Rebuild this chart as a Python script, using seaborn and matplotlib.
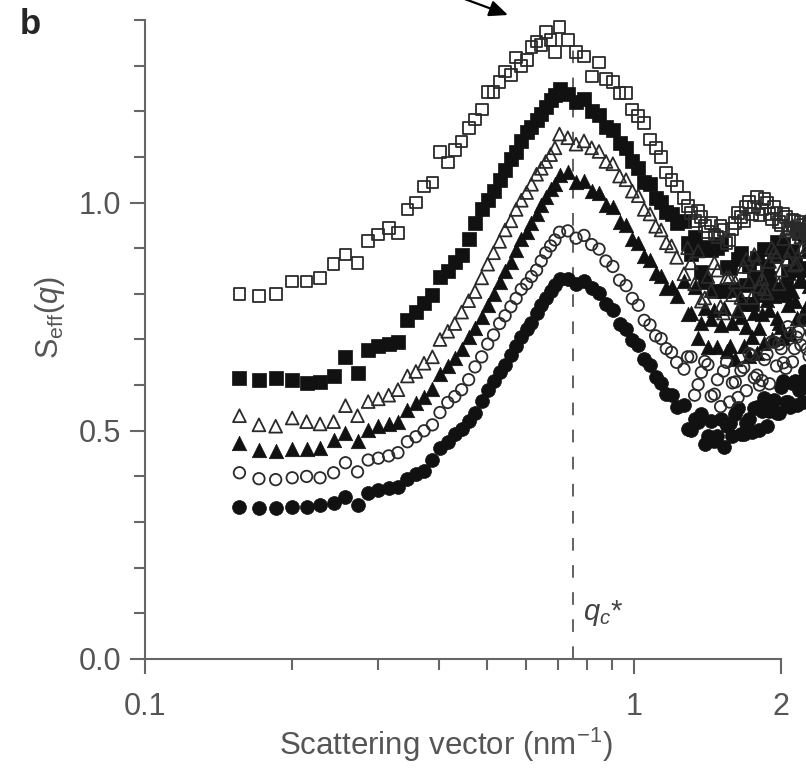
import matplotlib
matplotlib.use("Agg")
import matplotlib.pyplot as plt
from matplotlib.ticker import FixedLocator, FixedFormatter, NullFormatter
import pandas as pd
import seaborn as sns

# Scattering vector q (nm^-1): main grid, then the interleaved points of the high-q tail
q = [0.156, 0.171, 0.185, 0.200, 0.214, 0.228, 0.243, 0.257, 0.272, 0.286,
     0.300, 0.315, 0.329, 0.344, 0.358, 0.372, 0.387, 0.401, 0.416, 0.430,
     0.444, 0.459, 0.473, 0.488, 0.502, 0.516, 0.531, 0.545, 0.560, 0.574,
     0.588, 0.603, 0.617, 0.632, 0.646, 0.660, 0.675, 0.689, 0.704,
     0.732, 0.761, 0.790, 0.819, 0.848, 0.876, 0.905, 0.934, 0.963, 0.992,
     1.020, 1.049, 1.078, 1.107, 1.136, 1.164, 1.193, 1.222,
     1.265, 1.308, 1.352, 1.395, 1.438, 1.481, 1.524, 1.568, 1.611, 1.654,
     1.697, 1.740, 1.784, 1.827, 1.870, 1.913, 1.956, 2.000, 2.043, 2.086,
     2.129, 2.172, 2.216, 2.259, 2.302]
q_tail = [1.287, 1.330, 1.373, 1.416, 1.460, 1.503, 1.546, 1.589, 1.632, 1.676,
          1.719, 1.762, 1.805, 1.848, 1.892, 1.935, 1.978, 2.021, 2.064, 2.108,
          2.151, 2.194, 2.237, 2.280]

# S_eff(q) for the six samples (main grid, then tail points)
open_squares = [0.800, 0.796, 0.800, 0.827, 0.827, 0.835, 0.866, 0.886, 0.868, 0.915,
                0.930, 0.945, 0.934, 0.985, 1.000, 1.035, 1.044, 1.110, 1.088, 1.116,
                1.134, 1.164, 1.182, 1.204, 1.243, 1.243, 1.265, 1.287, 1.280, 1.318,
                1.300, 1.313, 1.340, 1.353, 1.345, 1.373, 1.357, 1.330, 1.384,
                1.357, 1.330, 1.320, 1.276, 1.307, 1.270, 1.265, 1.240, 1.240, 1.204,
                1.190, 1.175, 1.138, 1.120, 1.100, 1.066, 1.050, 1.035,
                1.010, 0.978, 0.982, 0.948, 0.955, 0.925, 0.940, 0.918, 0.955, 0.968,
                0.990, 0.975, 1.013, 0.985, 1.000, 0.963, 0.978, 0.950, 0.968, 0.942,
                0.960, 0.935, 0.952, 0.930, 0.948]
open_squares_tail = [0.992, 0.960, 0.968, 0.935, 0.930, 0.948, 0.912, 0.942, 0.978, 0.960,
                     1.002, 0.990, 0.972, 1.008, 0.975, 0.990, 0.958, 0.975, 0.945, 0.962,
                     0.938, 0.958, 0.940, 0.955]

filled_squares = [0.616, 0.612, 0.616, 0.612, 0.605, 0.607, 0.620, 0.662, 0.627, 0.678,
                  0.685, 0.690, 0.695, 0.743, 0.760, 0.780, 0.798, 0.838, 0.850, 0.870,
                  0.886, 0.920, 0.956, 0.985, 1.005, 1.025, 1.050, 1.072, 1.095, 1.110,
                  1.135, 1.155, 1.165, 1.180, 1.195, 1.210, 1.225, 1.235, 1.248,
                  1.238, 1.220, 1.228, 1.200, 1.192, 1.165, 1.158, 1.130, 1.120, 1.090,
                  1.075, 1.045, 1.040, 1.010, 1.002, 0.980, 0.975, 0.955,
                  0.960, 0.887, 0.897, 0.826, 0.897, 0.900, 0.807, 0.856, 0.809, 0.890,
                  0.819, 0.778, 0.879, 0.813, 0.860, 0.810, 0.914, 0.892, 0.814, 0.891,
                  0.870, 0.933, 0.856, 0.933, 0.912]
filled_squares_tail = [0.911, 0.925, 0.847, 0.903, 0.807, 0.909, 0.859, 0.811, 0.877, 0.777,
                       0.861, 0.835, 0.797, 0.899, 0.835, 0.883, 0.805, 0.909, 0.845, 0.894,
                       0.943, 0.852, 0.929, 0.894]

open_triangles = [0.533, 0.513, 0.510, 0.528, 0.520, 0.515, 0.520, 0.555, 0.533, 0.564,
                  0.570, 0.578, 0.590, 0.620, 0.630, 0.648, 0.662, 0.700, 0.718, 0.735,
                  0.760, 0.785, 0.805, 0.835, 0.865, 0.890, 0.915, 0.940, 0.960, 0.985,
                  1.005, 1.022, 1.040, 1.062, 1.075, 1.090, 1.105, 1.120, 1.150,
                  1.142, 1.128, 1.135, 1.120, 1.112, 1.090, 1.085, 1.058, 1.050, 1.025,
                  1.015, 0.985, 0.975, 0.948, 0.940, 0.912, 0.905, 0.880,
                  0.844, 0.868, 0.894, 0.791, 0.807, 0.852, 0.758, 0.836, 0.826, 0.792,
                  0.876, 0.792, 0.864, 0.833, 0.802, 0.901, 0.883, 0.852, 0.938, 0.894,
                  0.863, 0.935, 0.903, 0.962, 0.904]
open_triangles_tail = [0.901, 0.822, 0.784, 0.838, 0.868, 0.772, 0.836, 0.798, 0.763, 0.860,
                       0.827, 0.886, 0.816, 0.811, 0.871, 0.892, 0.822, 0.921, 0.877, 0.950,
                       0.866, 0.925, 0.893, 0.965]

filled_triangles = [0.474, 0.458, 0.455, 0.460, 0.460, 0.463, 0.480, 0.496, 0.478, 0.502,
                    0.510, 0.515, 0.520, 0.546, 0.560, 0.575, 0.592, 0.625, 0.642, 0.660,
                    0.680, 0.706, 0.725, 0.750, 0.775, 0.800, 0.825, 0.850, 0.870, 0.895,
                    0.920, 0.935, 0.955, 0.975, 0.995, 1.012, 1.030, 1.040, 1.060,
                    1.068, 1.045, 1.048, 1.025, 1.020, 0.995, 0.990, 0.958, 0.950, 0.920,
                    0.912, 0.882, 0.875, 0.845, 0.840, 0.812, 0.815, 0.795,
                    0.829, 0.759, 0.704, 0.768, 0.744, 0.683, 0.768, 0.686, 0.658, 0.750,
                    0.727, 0.705, 0.671, 0.755, 0.787, 0.702, 0.747, 0.727, 0.798, 0.713,
                    0.784, 0.829, 0.757, 0.776, 0.834]
filled_triangles_tail = [0.755, 0.816, 0.736, 0.684, 0.765, 0.732, 0.675, 0.737, 0.762, 0.686,
                         0.664, 0.759, 0.726, 0.693, 0.764, 0.796, 0.737, 0.704, 0.775, 0.807,
                         0.748, 0.832, 0.747, 0.818]

open_circles = [0.408, 0.395, 0.393, 0.397, 0.400, 0.397, 0.408, 0.430, 0.410, 0.436,
                0.440, 0.445, 0.452, 0.476, 0.487, 0.500, 0.513, 0.540, 0.562, 0.575,
                0.590, 0.612, 0.640, 0.662, 0.690, 0.710, 0.735, 0.752, 0.772, 0.790,
                0.810, 0.822, 0.838, 0.852, 0.872, 0.890, 0.905, 0.918, 0.935,
                0.938, 0.922, 0.928, 0.908, 0.898, 0.872, 0.860, 0.830, 0.818, 0.790,
                0.775, 0.742, 0.732, 0.708, 0.702, 0.680, 0.672, 0.650,
                0.635, 0.662, 0.601, 0.652, 0.576, 0.612, 0.631, 0.563, 0.607, 0.632,
                0.588, 0.665, 0.622, 0.610, 0.668, 0.695, 0.642, 0.680, 0.637, 0.714,
                0.680, 0.717, 0.743, 0.679, 0.715]
open_circles_tail = [0.662, 0.578, 0.628, 0.645, 0.580, 0.553, 0.650, 0.605, 0.573, 0.639,
                     0.669, 0.616, 0.600, 0.656, 0.603, 0.694, 0.690, 0.649, 0.728, 0.651,
                     0.705, 0.688, 0.742, 0.664]

filled_circles = [0.333, 0.330, 0.330, 0.333, 0.333, 0.338, 0.342, 0.355, 0.338, 0.364,
                  0.370, 0.374, 0.377, 0.395, 0.405, 0.412, 0.436, 0.462, 0.475, 0.492,
                  0.505, 0.522, 0.540, 0.565, 0.590, 0.608, 0.628, 0.645, 0.665, 0.685,
                  0.705, 0.722, 0.737, 0.758, 0.775, 0.790, 0.806, 0.820, 0.832,
                  0.832, 0.822, 0.828, 0.812, 0.802, 0.778, 0.765, 0.735, 0.722, 0.698,
                  0.688, 0.658, 0.645, 0.618, 0.605, 0.580, 0.578, 0.552,
                  0.556, 0.501, 0.520, 0.471, 0.522, 0.488, 0.465, 0.516, 0.537, 0.494,
                  0.516, 0.498, 0.552, 0.543, 0.510, 0.565, 0.540, 0.595, 0.562, 0.553,
                  0.608, 0.590, 0.564, 0.618, 0.616]
filled_circles_tail = [0.505, 0.525, 0.536, 0.488, 0.478, 0.525, 0.511, 0.489, 0.549, 0.492,
                       0.525, 0.549, 0.502, 0.572, 0.543, 0.568, 0.539, 0.609, 0.562, 0.605,
                       0.557, 0.608, 0.632, 0.593]

q_c = 0.75
x_ticks = [0.1, 1, 2]
x_tick_labels = ["0.1", "1", "2"]
x_minor = [0.2, 0.3, 0.4, 0.5, 0.6, 0.7, 0.8, 0.9]
y_ticks = [0.0, 0.5, 1.0]
y_tick_labels = ["0.0", "0.5", "1.0"]
y_minor = [0.1, 0.2, 0.3, 0.4, 0.6, 0.7, 0.8, 0.9, 1.1, 1.2, 1.3, 1.4]

series = {
    "filled_circles": (filled_circles, filled_circles_tail),
    "open_circles": (open_circles, open_circles_tail),
    "filled_triangles": (filled_triangles, filled_triangles_tail),
    "open_triangles": (open_triangles, open_triangles_tail),
    "filled_squares": (filled_squares, filled_squares_tail),
    "open_squares": (open_squares, open_squares_tail),
}
df = pd.concat(
    [pd.DataFrame({"q": q + q_tail, "S": main + tail, "sample": name})
     for name, (main, tail) in series.items()],
    ignore_index=True,
)

ink = "#111111"
edge = "#2a2a2a"
styles = {
    "filled_circles": dict(marker="o", s=100, color=ink, edgecolor=ink, linewidth=0.5),
    "filled_triangles": dict(marker="^", s=108, color=ink, edgecolor=ink, linewidth=0.5),
    "filled_squares": dict(marker="s", s=95, color=ink, edgecolor=ink, linewidth=0.5),
    "open_circles": dict(marker="o", s=68, color=edge, facecolor="none", edgecolor=edge, linewidth=1.3),
    "open_triangles": dict(marker="^", s=85, color=edge, facecolor="none", edgecolor=edge, linewidth=1.3),
    "open_squares": dict(marker="s", s=72, color=edge, facecolor="none", edgecolor=edge, linewidth=1.3),
}

sns.set_style("ticks")
plt.rcParams["font.family"] = ["Liberation Sans", "DejaVu Sans"]
plt.rcParams["mathtext.fontset"] = "custom"
plt.rcParams["mathtext.rm"] = "Liberation Sans"
plt.rcParams["mathtext.it"] = "Liberation Sans:italic"
plt.rcParams["mathtext.bf"] = "Liberation Sans:bold"

W, H = 806, 771
fig = plt.figure(figsize=(W / 100, H / 100), dpi=100)
ax = fig.add_axes([145 / W, (H - 659) / H, (W - 145) / W, (659 - 20) / H])

for name, st in styles.items():
    sns.scatterplot(data=df[df["sample"] == name], x="q", y="S", ax=ax,
                    legend=False, zorder=3, **st)

ax.axvline(q_c, ymin=0, ymax=1.335 / 1.4, color="#555555", lw=1.3,
           ls=(0, (7, 8)), zorder=2)
ax.text(0.785, 0.086, r"$q_c$*", fontsize=21, color="#444444", va="baseline")

ax.set_xscale("log")
ax.set_xlim(0.1, 2.247)
ax.set_ylim(0, 1.4)
ax.xaxis.set_major_locator(FixedLocator(x_ticks))
ax.xaxis.set_major_formatter(FixedFormatter(x_tick_labels))
ax.xaxis.set_minor_locator(FixedLocator(x_minor))
ax.xaxis.set_minor_formatter(NullFormatter())
ax.yaxis.set_major_locator(FixedLocator(y_ticks))
ax.yaxis.set_major_formatter(FixedFormatter(y_tick_labels))
ax.yaxis.set_minor_locator(FixedLocator(y_minor))

spine_col = "#666666"
sns.despine(ax=ax)
ax.spines["bottom"].set_bounds(0.1, 2)
ax.spines["left"].set_bounds(0, 1.4)
for sp in ("left", "bottom"):
    ax.spines[sp].set_color(spine_col)
    ax.spines[sp].set_linewidth(1.5)
ax.tick_params(which="major", direction="out", length=11, width=1.5,
               color=spine_col, labelcolor="#555555", labelsize=22)
ax.tick_params(which="minor", direction="out", length=8, width=1.5, color=spine_col)
ax.tick_params(axis="x", which="major", pad=13)
ax.tick_params(axis="y", which="major", pad=6)

ax.set_xlabel("Scattering vector (nm$^{-1}$)", fontsize=22.5, color="#555555", va="center")
ax.xaxis.set_label_coords((446 - 145) / (W - 145), -(745 - 659) / (659 - 20))
ax.set_ylabel(r"S$_{\rm eff}$($q$)", fontsize=22, color="#555555", va="center")
ax.yaxis.set_label_coords(-(145 - 50) / (W - 145), (659 - 318) / (659 - 20))

fig.text(20 / W, 1 - 8 / H, "b", fontsize=25, fontweight="bold", va="top", ha="left")

ax.annotate("", xy=(508, H - 15), xycoords="figure pixels",
            xytext=(462, H + 2), textcoords="figure pixels",
            arrowprops=dict(arrowstyle="-|>,head_length=0.8,head_width=0.35",
                            mutation_scale=14, color="black", lw=1.6,
                            shrinkA=0, shrinkB=0))

fig.savefig("out.png", dpi=100)
